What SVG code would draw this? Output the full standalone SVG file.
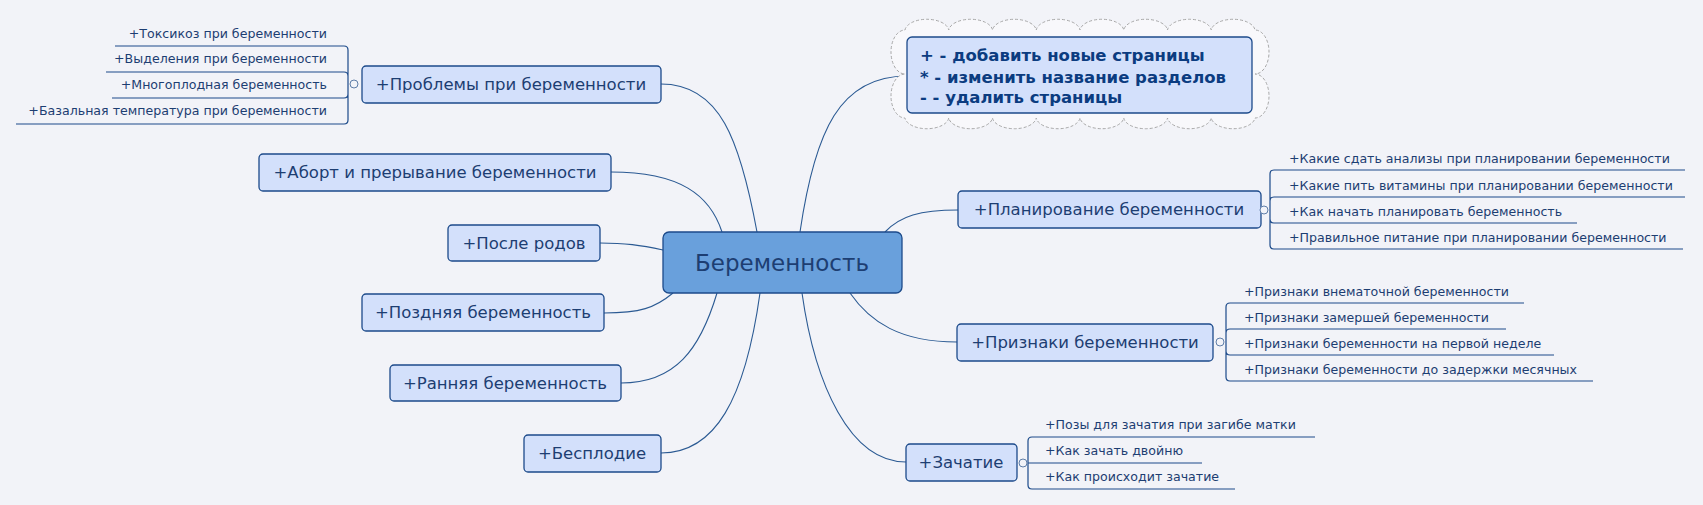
<svg xmlns="http://www.w3.org/2000/svg" width="1703" height="505" viewBox="0 0 1703 505">
<style>
.bg{fill:#f2f3f8}
.node rect{fill:#d3e0fb;stroke:#1c4a8a;stroke-width:1.3}
.node text{font-family:"DejaVu Sans",sans-serif;font-size:16.5px;fill:#1d3e72;text-anchor:middle}
.node text.leaf{font-family:"DejaVu Sans",sans-serif;font-size:12.6px;fill:#1d3e72;text-anchor:start}
.node text.leaf.r{text-anchor:end}
.ul{stroke:#1c4a8a;stroke-width:1.2;fill:none}
.con path{fill:none;stroke:#2b5a93;stroke-width:1.1}
.col{fill:#f2f3f8;stroke:#5f7ea8;stroke-width:1}
</style>
<rect class="bg" width="1703" height="505"/>
<g id="connectors" class="con">
<path d="M757,232 C740,140 720,84 661,84"/>
<path d="M722,232 C710,195 680,172 611,172"/>
<path d="M663,250 C640,245 625,243 600,243"/>
<path d="M673,293 C655,308 640,313 604,313"/>
<path d="M717,293 C700,350 675,383 621,383"/>
<path d="M760,293 C745,400 715,453 661,453"/>
<path d="M800,232 C815,130 840,76 907,76"/>
<path d="M885,232 C900,216 920,210 958,210"/>
<path d="M850,293 C870,322 900,342 957,342"/>
<path d="M802,293 C815,385 850,462 906,462"/>
</g>
<g id="center" class="node"><rect x="663" y="232" width="239" height="61" rx="6" style="fill:#69a0dc;stroke:#1c4a8a"/><text x="782" y="271" style="font-size:23px">Беременность</text></g>
<g id="note">
<path d="M905,30 a22,12 0 0 1 43.75,0 a22,12 0 0 1 43.75,0 a22,12 0 0 1 43.75,0 a22,12 0 0 1 43.75,0 a22,12 0 0 1 43.75,0 a22,12 0 0 1 43.75,0 a22,12 0 0 1 43.75,0 a22,12 0 0 1 43.75,0 a14,22 0 0 1 0,44 a14,22 0 0 1 0,44 a22,12 0 0 1 -43.75,0 a22,12 0 0 1 -43.75,0 a22,12 0 0 1 -43.75,0 a22,12 0 0 1 -43.75,0 a22,12 0 0 1 -43.75,0 a22,12 0 0 1 -43.75,0 a22,12 0 0 1 -43.75,0 a22,12 0 0 1 -43.75,0 a14,22 0 0 1 0,-44 a14,22 0 0 1 0,-44 Z" fill="#f8f8fb" stroke="#a8a8a8" stroke-dasharray="3,2"/>
<rect x="907" y="37" width="345" height="76" rx="5" fill="#d3e0fb" stroke="#1c4a8a" stroke-width="1.3"/>
<g font-family="DejaVu Sans,sans-serif" font-weight="bold" font-size="16.5" fill="#0b3c80">
<text x="920" y="61">+ - добавить новые страницы</text>
<text x="920" y="83">* - изменить название разделов</text>
<text x="920" y="103">- - удалить страницы</text>
</g></g>
<g id="problems" class="node"><rect x="362" y="66" width="299" height="37" rx="4"/><text x="511" y="90">+Проблемы при беременности</text>
<text class="leaf r" x="327" y="38">+Токсикоз при беременности</text>
<text class="leaf r" x="327" y="63">+Выделения при беременности</text>
<text class="leaf r" x="327" y="89">+Многоплодная беременность</text>
<text class="leaf r" x="327" y="115">+Базальная температура при беременности</text>
<path class="ul" d="M115,46 H344 q4,0 4,4 V120 q0,4 -4,4 H16 M106,72 H344 q4,0 4,4 M112,98 H344 q4,0 4,-4"/>
<circle class="col" cx="354" cy="84" r="4"/></g>
<g id="abort" class="node"><rect x="259" y="154" width="352" height="37" rx="4"/><text x="435" y="178">+Аборт и прерывание беременности</text></g>
<g id="postbirth" class="node"><rect x="448" y="225" width="152" height="36" rx="4"/><text x="524" y="249">+После родов</text></g>
<g id="late" class="node"><rect x="362" y="294" width="242" height="37" rx="4"/><text x="483" y="318">+Поздняя беременность</text></g>
<g id="early" class="node"><rect x="390" y="365" width="231" height="36" rx="4"/><text x="505" y="389">+Ранняя беременность</text></g>
<g id="infertility" class="node"><rect x="524" y="435" width="137" height="37" rx="4"/><text x="592" y="459">+Бесплодие</text></g>
<g id="planning" class="node"><rect x="958" y="191" width="303" height="37" rx="4"/><text x="1109" y="215">+Планирование беременности</text>
<text class="leaf" x="1289" y="163">+Какие сдать анализы при планировании беременности</text>
<text class="leaf" x="1289" y="190">+Какие пить витамины при планировании беременности</text>
<text class="leaf" x="1289" y="216">+Как начать планировать беременность</text>
<text class="leaf" x="1289" y="242">+Правильное питание при планировании беременности</text>
<path class="ul" d="M1685,170 H1274 q-4,0 -4,4 V245 q0,4 4,4 H1683 M1685,197 H1274 q-4,0 -4,4 M1577,223 H1274 q-4,0 -4,-4"/>
<circle class="col" cx="1264" cy="210" r="4"/></g>
<g id="signs" class="node"><rect x="957" y="324" width="256" height="37" rx="4"/><text x="1085" y="348">+Признаки беременности</text>
<text class="leaf" x="1244" y="296">+Признаки внематочной беременности</text>
<text class="leaf" x="1244" y="322">+Признаки замершей беременности</text>
<text class="leaf" x="1244" y="348">+Признаки беременности на первой неделе</text>
<text class="leaf" x="1244" y="374">+Признаки беременности до задержки месячных</text>
<path class="ul" d="M1524,303 H1230 q-4,0 -4,4 V377 q0,4 4,4 H1593 M1506,329 H1230 q-4,0 -4,4 M1554,355 H1230 q-4,0 -4,-4"/>
<circle class="col" cx="1220" cy="342" r="4"/></g>
<g id="conception" class="node"><rect x="906" y="444" width="111" height="37" rx="4"/><text x="961" y="468">+Зачатие</text>
<text class="leaf" x="1045" y="429">+Позы для зачатия при загибе матки</text>
<text class="leaf" x="1045" y="455">+Как зачать двойню</text>
<text class="leaf" x="1045" y="481">+Как происходит зачатие</text>
<path class="ul" d="M1315,437 H1032 q-4,0 -4,4 V485 q0,4 4,4 H1235 M1202,463 H1028"/>
<circle class="col" cx="1023" cy="463" r="4"/></g>
</svg>
